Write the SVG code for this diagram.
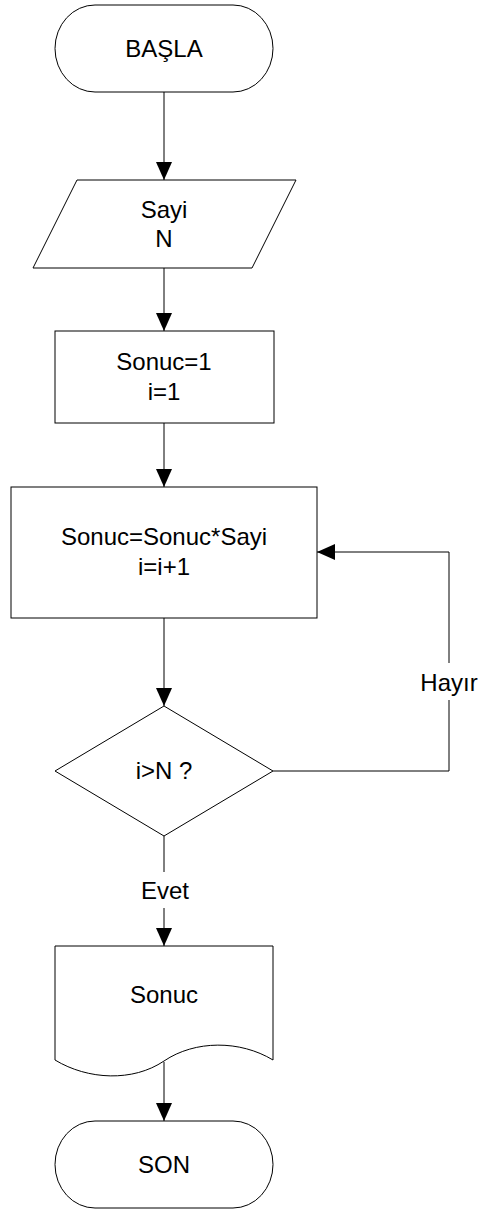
<svg xmlns="http://www.w3.org/2000/svg" width="480" height="1211" viewBox="0 0 480 1211">
<style>
.shape{fill:#fff;stroke:#000;stroke-width:1}
.conn{fill:none;stroke:#000;stroke-width:1}
text{font-family:"Liberation Sans",Arial,sans-serif;font-size:24px;fill:#000;text-anchor:middle}
</style>
<defs>
<marker id="arr" viewBox="0 0 18 16" refX="18" refY="8" markerWidth="18" markerHeight="16" markerUnits="userSpaceOnUse" orient="auto">
<path d="M0,0 L18,8 L0,16 Z" fill="#000"/>
</marker>
</defs>
<rect width="480" height="1211" fill="#fff"/>
<g id="connectors">
<line class="conn" x1="164" y1="92" x2="164" y2="180" marker-end="url(#arr)"/>
<line class="conn" x1="164" y1="268" x2="164" y2="331" marker-end="url(#arr)"/>
<line class="conn" x1="164" y1="423" x2="164" y2="487" marker-end="url(#arr)"/>
<line class="conn" x1="164" y1="618" x2="164" y2="706" marker-end="url(#arr)"/>
<line class="conn" x1="164" y1="836" x2="164" y2="872"/>
<line class="conn" x1="164" y1="908" x2="164" y2="946" marker-end="url(#arr)"/>
<line class="conn" x1="164" y1="1062" x2="164" y2="1121" marker-end="url(#arr)"/>
<polyline class="conn" points="273,771 449,771 449,700"/>
<polyline class="conn" points="449,663 449,552 317,552" marker-end="url(#arr)"/>
<text x="165" y="899">Evet</text>
<text x="449" y="691">Hayır</text>
</g>
<g id="start">
<rect class="shape" x="55" y="5" width="218" height="87" rx="40" ry="43.5"/>
<text x="164" y="57">BAŞLA</text>
</g>
<g id="input">
<polygon class="shape" points="77,180 296,180 252,268 33,268"/>
<text x="164" y="218">Sayi</text>
<text x="164" y="247">N</text>
</g>
<g id="init">
<rect class="shape" x="55" y="331" width="219" height="92"/>
<text x="164" y="370">Sonuc=1</text>
<text x="164" y="400">i=1</text>
</g>
<g id="loop">
<rect class="shape" x="11" y="487" width="306" height="131"/>
<text x="164" y="545">Sonuc=Sonuc*Sayi</text>
<text x="164" y="575">i=i+1</text>
</g>
<g id="decision">
<polygon class="shape" points="164,706 273,771 164,836 55,771"/>
<text x="164" y="779">i&gt;N ?</text>
</g>
<g id="output">
<path class="shape" d="M55,946 H273 V1060 C240,1040 195,1040 164,1061 C133,1082 88,1080 55,1060 Z"/>
<text x="164" y="1003">Sonuc</text>
</g>
<g id="end">
<rect class="shape" x="55" y="1121" width="218" height="87" rx="40" ry="43.5"/>
<text x="164" y="1173">SON</text>
</g>
</svg>
